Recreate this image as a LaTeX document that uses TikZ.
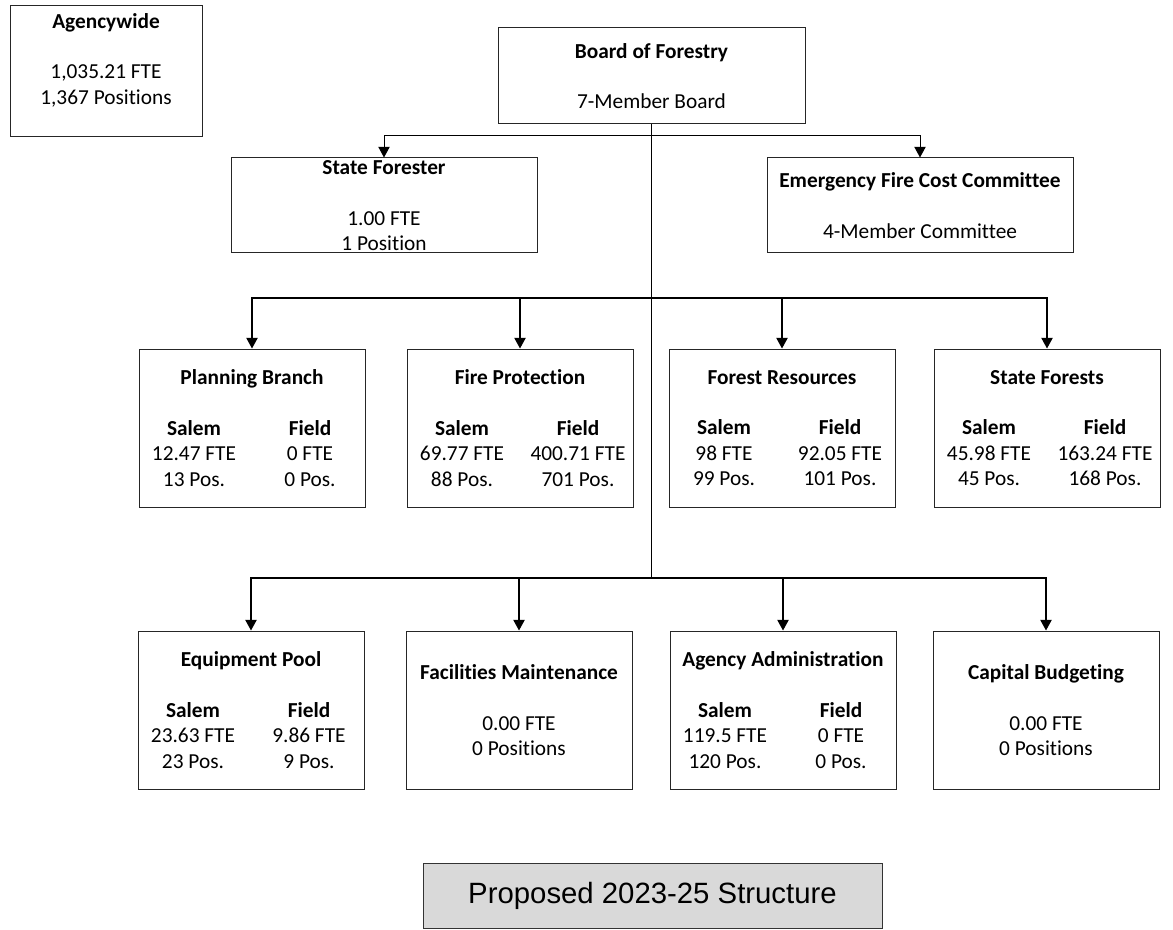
\documentclass[tikz,border=0pt]{standalone}
\usepackage{fontspec}
\setmainfont{Carlito}[Ligatures=NoCommon]
\newfontfamily\capfont{Liberation Sans}
\usetikzlibrary{positioning,arrows.meta}
\definecolor{capfill}{HTML}{D9D9D9}
\tikzset{
  unit/.style={draw=black!85,line width=0.75pt,rectangle,minimum width=169.5pt,minimum height=118.5pt,align=center,inner sep=0pt,font=\fontsize{16}{19}\selectfont},
  head/.style={unit,minimum width=229.5pt,minimum height=71.25pt},
  arr/.style={-{Triangle[length=8pt,width=8.5pt]},line width=1pt},
  link/.style={line width=1pt}
}
\newcommand{\splitrow}[2]{\makebox[0pt]{\makebox[87pt]{#1}\makebox[87pt]{#2}}}

\begin{document}
\begin{tikzpicture}[x=0.75pt,y=-0.75pt]
\useasboundingbox (0,0) rectangle (1173,930);

\node[unit,minimum width=144pt,minimum height=98.25pt] (agency) at (106,71.5)
  {\textbf{Agencywide}\\[19pt]1,035.21 FTE\\1,367 Positions\\\mbox{}};

\node[head,minimum width=230.25pt,minimum height=72pt] (board) at (651.5,76)
  {\textbf{Board of Forestry}\\[19pt]7-Member Board};
\node[head] (forester) at (384,205.5)
  {\textbf{State Forester}\\[19pt]1.00 FTE\\1 Position};
\node[head] (efcc) at (920,205.5)
  {\textbf{Emergency Fire Cost Committee}\\[19pt]4-Member Committee};

% program areas
\node[unit] (plan) at (252,428)
  {\textbf{Planning Branch}\\[19pt]\splitrow{\textbf{Salem}}{\textbf{Field}}\\\splitrow{12.47 FTE}{0 FTE}\\\splitrow{13 Pos.}{0 Pos.}};
\node[unit] (fire) at (520,428)
  {\textbf{Fire Protection}\\[19pt]\splitrow{\textbf{Salem}}{\textbf{Field}}\\\splitrow{69.77 FTE}{400.71 FTE}\\\splitrow{88 Pos.}{701 Pos.}};
\node[unit] (forest) at (782,428)
  {\textbf{Forest Resources}\\[19pt]\splitrow{\textbf{Salem}}{\textbf{Field}}\\\splitrow{98 FTE}{92.05 FTE}\\\splitrow{99 Pos.}{101 Pos.}};
\node[unit] (stfor) at (1047,428)
  {\textbf{State Forests}\\[19pt]\splitrow{\textbf{Salem}}{\textbf{Field}}\\\splitrow{45.98 FTE}{163.24 FTE}\\\splitrow{45 Pos.}{168 Pos.}};

% support units
\node[unit] (equip) at (251,710)
  {\textbf{Equipment Pool}\\[19pt]\splitrow{\textbf{Salem}}{\textbf{Field}}\\\splitrow{23.63 FTE}{9.86 FTE}\\\splitrow{23 Pos.}{9 Pos.}};
\node[unit] (facil) at (519,710)
  {\textbf{Facilities Maintenance}\\[19pt]0.00 FTE\\0 Positions};
\node[unit] (admin) at (783,710)
  {\textbf{Agency Administration}\\[19pt]\splitrow{\textbf{Salem}}{\textbf{Field}}\\\splitrow{119.5 FTE}{0 FTE}\\\splitrow{120 Pos.}{0 Pos.}};
\node[unit] (capbud) at (1046,710)
  {\textbf{Capital Budgeting}\\[19pt]0.00 FTE\\0 Positions};

\node[draw=black!80,line width=0.75pt,fill=capfill,minimum width=344.25pt,minimum height=48.75pt,inner sep=0pt,font=\capfont\fontsize{22}{26}\selectfont] (caption) at (652.5,895.5) {Proposed 2023-25 Structure};

\coordinate (j1) at (651.5,136);
\coordinate (j2) at (651.5,298);
\coordinate (j3) at (651.5,578);

\draw[link] (board.south) -- (j3);
\draw[arr,line width=0.75pt] (j1) -| (forester);
\draw[arr,line width=0.75pt] (j1) -| (efcc);
\draw[arr] (j2) -| (plan);
\draw[arr] (j2) -| (fire);
\draw[arr] (j2) -| (forest);
\draw[arr] (j2) -| (stfor);
\draw[arr] (j3) -| (equip);
\draw[arr] (j3) -| (facil);
\draw[arr] (j3) -| (admin);
\draw[arr] (j3) -| (capbud);

\end{tikzpicture}
\end{document}
